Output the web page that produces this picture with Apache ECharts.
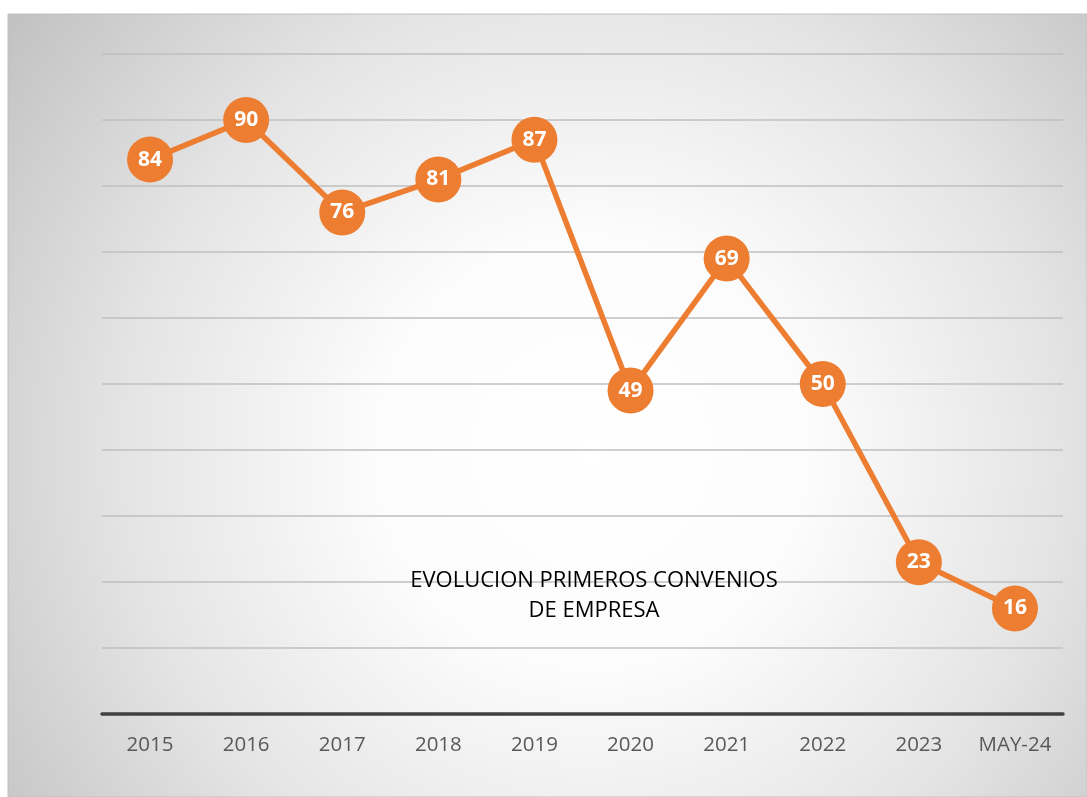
<!DOCTYPE html>
<html>
<head>
<meta charset="utf-8">
<script src="https://cdn.jsdelivr.net/npm/echarts@6/dist/echarts.min.js"></script>
<style>
html,body{margin:0;padding:0;background:#fff;}
#chart{width:1087px;height:797px;}
</style>
</head>
<body>
<div id="chart"></div>
<script>
const categories = ['2015','2016','2017','2018','2019','2020','2021','2022','2023','MAY-24'];
const values = [84, 90, 76, 81, 87, 49, 69, 50, 23, 16];
const titleLines = ['EVOLUCION PRIMEROS CONVENIOS', 'DE EMPRESA'];

const chart = echarts.init(document.getElementById('chart'));
const orange = '#ED7D31';
chart.setOption({
  animation: false,
  graphic: [
    {
      type: 'rect', z: -10, silent: true,
      shape: { x: 8, y: 14, width: 1079, height: 783 },
      style: {
        fill: new echarts.graphic.RadialGradient(0.54, 0.56, 0.92, [
          { offset: 0, color: '#ffffff' },
          { offset: 0.3, color: '#fcfcfc' },
          { offset: 0.65, color: '#e4e4e4' },
          { offset: 1, color: '#c2c2c2' }
        ]),
        stroke: '#c0c0c0', lineWidth: 1
      }
    },
    {
      type: 'text', z: 10, silent: true,
      x: 594, y: 596,
      style: {
        text: titleLines.join('\n'),
        font: '22px "Open Sans", sans-serif',
        fill: '#000000',
        align: 'center',
        verticalAlign: 'middle',
        lineHeight: 30
      }
    }
  ],
  grid: { left: 102, right: 24, top: 54, bottom: 83, containLabel: false },
  xAxis: {
    type: 'category',
    data: categories,
    boundaryGap: true,
    axisLine: { show: true, lineStyle: { color: '#404040', width: 3.5 } },
    axisTick: { show: false },
    axisLabel: {
      color: '#595959',
      fontFamily: 'Open Sans',
      fontSize: 20.5,
      margin: 21
    },
    splitLine: { show: false }
  },
  yAxis: {
    type: 'value',
    min: 0, max: 100, interval: 10,
    axisLine: { show: false },
    axisTick: { show: false },
    axisLabel: { show: false },
    splitLine: { show: true, lineStyle: { color: '#bfbfbf', width: 1.5 } }
  },
  series: [{
    type: 'line',
    data: values,
    symbol: 'circle',
    symbolSize: 46,
    lineStyle: { color: orange, width: 5.5 },
    itemStyle: { color: orange },
    label: {
      show: true,
      position: 'inside',
      color: '#ffffff',
      fontFamily: 'Open Sans',
      fontWeight: 'bold',
      fontSize: 21
    },
    z: 5
  }]
});
</script>
</body>
</html>
